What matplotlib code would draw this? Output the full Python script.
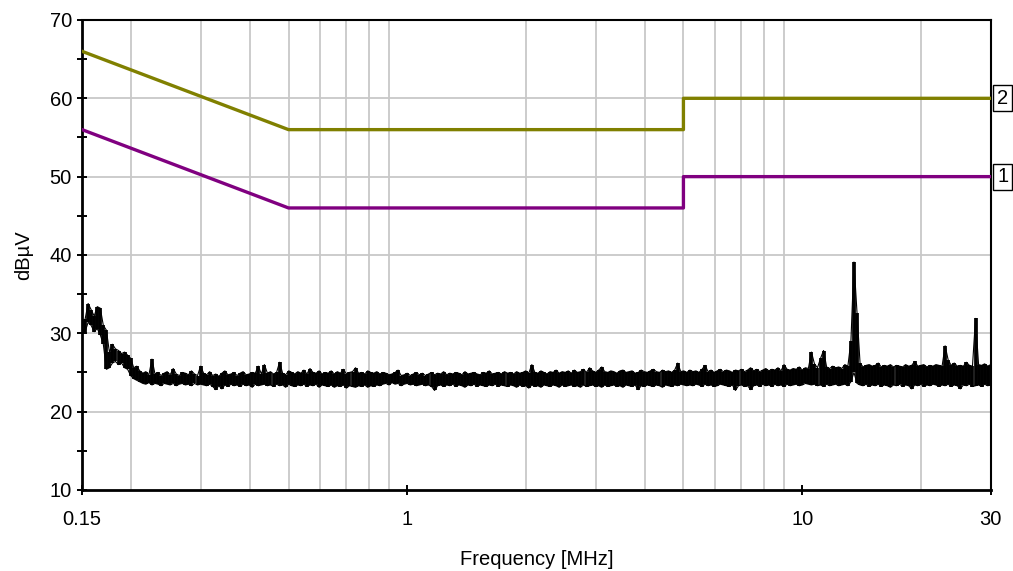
import numpy as np
import matplotlib
matplotlib.use('Agg')
import matplotlib.pyplot as plt
import matplotlib.transforms as mtransforms
from matplotlib.ticker import FixedLocator, NullFormatter

plt.rcParams.update({'font.size': 14.5, 'font.family': ['Liberation Sans', 'DejaVu Sans']})

# limit lines (dBuV), class markers on the right
limit_freq = [0.15, 0.5, 5.0, 5.0, 30.0]
limit_2 = [66, 56, 56, 60, 60]
limit_1 = [56, 46, 46, 50, 50]

# measured trace, read off the picture: per display column max / min (dBuV),
# columns on a log-spaced sweep from 0.15 to 30 MHz
trace_max = [
    30.6, 31.8, 33.8, 33.0, 32.2, 33.4, 33.2, 31.0, 30.4, 27.6, 28.6, 28.0, 27.8, 27.4, 27.6, 27.2, 26.8, 25.6, 25.8, 25.2,
    24.9, 25.1, 24.7, 26.7, 24.8, 25.0, 24.6, 24.9, 25.1, 24.7, 25.5, 24.8, 24.6, 25.0, 24.9, 24.7, 25.2, 24.8, 24.6, 25.8,
    24.9, 24.7, 25.1, 24.6, 24.8, 24.5, 24.9, 25.2, 24.7, 24.8, 25.0, 24.6, 24.9, 25.1, 24.7, 24.8, 25.0, 24.9, 25.8, 24.8,
    26.0, 24.9, 25.1, 24.8, 25.0, 26.3, 24.9, 24.7, 25.2, 25.0, 24.8, 25.1, 24.9, 25.3, 24.8, 25.5, 25.0, 24.9, 25.2, 24.8,
    25.0, 24.9, 25.2, 24.8, 25.1, 24.9, 25.4, 24.8, 25.0, 25.1, 25.6, 24.9, 25.0, 24.8, 25.2, 25.0, 24.9, 25.1, 24.8, 25.0,
    24.9, 24.7, 24.8, 25.0, 25.3, 24.6, 24.7, 24.9, 24.6, 24.8, 25.0, 24.7, 24.9, 24.6, 24.8, 25.0, 24.7, 24.9, 24.8, 25.1,
    24.7, 24.9, 24.8, 25.0, 24.9, 24.7, 25.1, 24.8, 24.9, 25.0, 24.8, 24.7, 25.0, 24.9, 25.2, 24.8, 24.9, 25.0, 24.8, 25.1,
    24.9, 25.0, 24.8, 25.1, 24.9, 25.0, 25.2, 24.9, 26.0, 25.0, 24.9, 25.2, 25.0, 24.8, 25.1, 25.0, 25.3, 24.9, 25.1, 25.0,
    25.2, 24.9, 25.3, 25.0, 25.1, 25.4, 25.0, 25.6, 25.2, 25.0, 25.3, 25.7, 25.1, 25.0, 25.2, 25.1, 24.9, 25.2, 25.3, 25.0,
    25.1, 25.2, 24.9, 25.0, 25.3, 25.1, 25.0, 25.2, 25.4, 25.1, 25.0, 25.3, 25.1, 25.2, 25.0, 25.3, 26.2, 25.1, 25.2, 25.0,
    25.3, 25.1, 25.2, 25.0, 25.4, 25.9, 25.1, 25.3, 25.0, 25.2, 25.4, 25.1, 25.3, 25.2, 25.0, 25.3, 25.2, 25.4, 25.1, 25.3,
    25.6, 25.2, 25.4, 25.1, 25.3, 25.5, 25.2, 25.4, 25.3, 25.6, 25.2, 26.0, 25.4, 25.3, 25.5, 25.4, 25.7, 25.3, 25.6, 25.5,
    27.6, 26.1, 25.6, 26.8, 27.8, 25.7, 25.5, 25.8, 25.6, 25.7, 25.5, 26.0, 25.8, 29.0, 39.1, 32.6, 26.2, 25.7, 25.9, 26.0,
    25.8, 25.9, 26.2, 25.7, 25.9, 25.8, 26.0, 25.7, 25.9, 25.8, 25.7, 26.0, 25.8, 25.9, 26.4, 25.8, 25.9, 26.0, 25.7, 25.9,
    25.8, 26.0, 25.9, 25.8, 28.4, 26.6, 25.9, 26.2, 25.8, 25.9, 25.8, 26.3, 25.9, 25.8, 31.9, 26.0, 25.9, 26.1, 25.8, 26.0,
]
trace_min = [
    30.0, 30.2, 31.4, 31.0, 30.2, 30.6, 29.8, 28.6, 25.4, 25.6, 26.2, 26.4, 26.0, 26.2, 25.6, 25.4, 24.6, 24.2, 24.0, 23.8,
    23.6, 23.5, 23.7, 23.4, 23.6, 23.5, 23.3, 23.6, 23.5, 23.4, 23.6, 23.3, 23.5, 23.6, 23.4, 23.5, 23.3, 23.6, 23.4, 23.5,
    23.4, 23.3, 23.5, 23.2, 22.8, 23.3, 22.9, 23.4, 23.2, 23.5, 23.3, 23.4, 23.2, 23.5, 23.3, 23.4, 23.1, 23.5, 23.3, 23.4,
    23.5, 23.3, 23.4, 23.2, 23.5, 23.3, 23.4, 23.1, 23.5, 23.3, 23.2, 23.4, 23.3, 23.5, 23.2, 23.4, 23.3, 23.5, 23.1, 23.4,
    23.3, 23.2, 23.4, 23.1, 23.3, 23.2, 23.4, 23.0, 23.3, 23.2, 23.1, 23.3, 23.2, 23.4, 23.1, 23.3, 23.2, 23.4, 23.3, 23.5,
    23.6, 23.4, 23.7, 23.5, 23.6, 23.3, 23.5, 23.6, 23.4, 23.5, 23.3, 23.4, 23.5, 23.3, 23.4, 23.2, 22.7, 23.3, 23.4, 23.2,
    23.4, 23.3, 23.5, 23.2, 23.4, 23.3, 23.1, 23.4, 23.3, 23.5, 23.2, 23.4, 23.3, 23.2, 23.4, 23.3, 23.5, 23.2, 23.4, 23.3,
    23.2, 23.4, 23.3, 23.1, 23.4, 23.2, 23.3, 23.0, 23.4, 23.2, 23.3, 23.1, 23.4, 23.3, 23.2, 23.4, 23.3, 23.1, 23.4, 23.2,
    23.3, 23.4, 23.2, 23.3, 23.1, 23.4, 23.2, 23.3, 23.4, 23.2, 23.3, 23.1, 23.4, 23.2, 23.3, 23.4, 23.2, 23.3, 23.1, 23.4,
    23.3, 23.2, 23.4, 22.8, 23.3, 23.2, 23.4, 23.3, 23.2, 23.4, 23.3, 23.1, 23.4, 23.3, 23.2, 23.4, 23.3, 23.5, 23.4, 23.3,
    23.4, 23.3, 23.5, 23.4, 23.2, 23.5, 23.3, 23.4, 23.2, 23.3, 23.5, 23.4, 23.3, 23.2, 23.4, 22.7, 23.3, 23.4, 23.2, 23.3,
    22.8, 23.3, 23.4, 23.2, 23.5, 23.3, 23.4, 23.2, 23.5, 23.3, 23.4, 23.2, 23.5, 23.3, 23.4, 23.5, 23.3, 23.4, 23.6, 23.5,
    23.4, 23.5, 23.3, 23.4, 23.2, 23.5, 23.3, 23.4, 23.5, 23.3, 23.4, 23.5, 23.3, 23.8, 25.0, 23.6, 23.4, 23.3, 23.5, 23.2,
    23.4, 23.3, 23.5, 23.2, 23.4, 23.3, 23.1, 23.4, 23.3, 23.5, 23.2, 23.4, 23.3, 22.9, 23.4, 23.3, 23.5, 23.2, 23.4, 23.3,
    23.5, 23.4, 23.2, 23.4, 23.3, 23.5, 23.2, 23.4, 23.3, 22.9, 23.4, 23.3, 23.5, 23.2, 23.3, 23.4, 23.2, 23.5, 23.3, 23.4,
]
trace_freq = np.geomspace(0.15, 30, len(trace_max))

fig = plt.figure(figsize=(10.13, 5.71), dpi=100)
ax = fig.add_axes([0.081, 0.142, 0.897, 0.823])

ax.plot(limit_freq, limit_2, color='#808000', lw=2.4, zorder=3)
ax.plot(limit_freq, limit_1, color='#800080', lw=2.4, zorder=3)
# trace drawn as min/max columns like the receiver display
ax.vlines(trace_freq, trace_min, trace_max, color='black', lw=2.7, zorder=4)
ax.plot(trace_freq, trace_max, color='black', lw=0.8, zorder=4)
ax.plot(trace_freq, trace_min, color='black', lw=0.8, zorder=4)

ax.set_xscale('log')
ax.set_xlim(0.15, 30)
ax.set_ylim(10, 70)

# grid: vertical at 0.2..0.9, 2..9, 20 ; horizontal every 10
grid_x = [0.2, 0.3, 0.4, 0.5, 0.6, 0.7, 0.8, 0.9, 2, 3, 4, 5, 6, 7, 8, 9, 20]
for gx in grid_x:
    ax.axvline(gx, color='#c8c8c8', lw=1.3, zorder=1)
for gy in [20, 30, 40, 50, 60]:
    ax.axhline(gy, color='#c8c8c8', lw=1.3, zorder=1)

ax.xaxis.set_major_locator(FixedLocator([0.15, 1, 10, 30]))
ax.xaxis.set_minor_locator(FixedLocator([]))
ax.set_xticklabels(['0.15', '1', '10', '30'])
ax.xaxis.set_minor_formatter(NullFormatter())
ax.yaxis.set_major_locator(FixedLocator([10, 20, 30, 40, 50, 60, 70]))
ax.yaxis.set_minor_locator(FixedLocator([15, 25, 35, 45, 55, 65]))
ax.tick_params(axis='both', which='both', direction='inout', length=6.5, width=1.4, color='black')
ax.tick_params(axis='x', pad=11)
ax.tick_params(axis='y', pad=4)

for side in ['left', 'bottom']:
    ax.spines[side].set_linewidth(2.0)
for side in ['top', 'right']:
    ax.spines[side].set_linewidth(1.5)

ax.set_xlabel('Frequency [MHz]', labelpad=15)
ax.set_ylabel('dBµV', labelpad=12)

trans = mtransforms.blended_transform_factory(ax.transAxes, ax.transData)
for lbl, yv in [('2', limit_2[-1]), ('1', limit_1[-1])]:
    ax.text(1.007, yv, lbl, transform=trans, ha='left', va='center', fontsize=14.5,
            bbox=dict(boxstyle='square,pad=0.18', fc='white', ec='black', lw=1.0), clip_on=False)

plt.savefig('out.png', dpi=100)
